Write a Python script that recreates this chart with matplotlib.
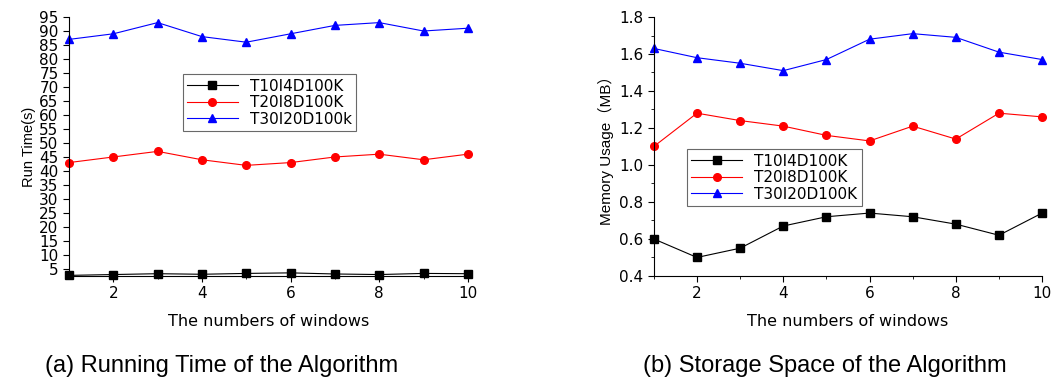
import matplotlib
matplotlib.use("Agg")
import matplotlib.pyplot as plt
from matplotlib.ticker import MultipleLocator, FormatStrFormatter

plt.rcParams['font.family'] = ['Liberation Sans', 'Noto Sans CJK SC', 'DejaVu Sans']

# data
windows = [1, 2, 3, 4, 5, 6, 7, 8, 9, 10]
labels_a = ["T10I4D100K", "T20I8D100K", "T30I20D100k"]
labels_b = ["T10I4D100K", "T20I8D100K", "T30I20D100K"]

time_t10 = [2.7, 3.0, 3.3, 3.1, 3.4, 3.6, 3.2, 3.0, 3.4, 3.3]
time_t20 = [43, 45, 47, 44, 42, 43, 45, 46, 44, 46]
time_t30 = [87, 89, 93, 88, 86, 89, 92, 93, 90, 91]

mem_t10 = [0.60, 0.50, 0.55, 0.67, 0.72, 0.74, 0.72, 0.68, 0.62, 0.74]
mem_t20 = [1.10, 1.28, 1.24, 1.21, 1.16, 1.13, 1.21, 1.14, 1.28, 1.26]
mem_t30 = [1.63, 1.58, 1.55, 1.51, 1.57, 1.68, 1.71, 1.69, 1.61, 1.57]

styles = [("black", "s"), ("red", "o"), ("blue", "^")]

# the original plots were stretched sideways, so use the wide DejaVu face for them
wide = 'DejaVu Sans'

fig = plt.figure(figsize=(10.58, 3.78), dpi=100)
ax1 = fig.add_axes([0.0652, 0.270, 0.377, 0.685])
ax2 = fig.add_axes([0.618, 0.270, 0.367, 0.685])


def style_axes(ax):
    ax.spines['top'].set_visible(False)
    ax.spines['right'].set_visible(False)
    ax.set_xlim(1, 10)
    ax.xaxis.set_major_locator(MultipleLocator(2))
    ax.xaxis.set_minor_locator(MultipleLocator(1))
    ax.tick_params(which='major', direction='out', length=4, labelsize=11)
    ax.tick_params(which='minor', direction='out', length=2)
    for t in ax.get_xticklabels() + ax.get_yticklabels():
        t.set_family(wide)
    ax.set_xlabel("The numbers of windows", fontsize=11.5, family=wide, labelpad=9)


def add_legend(ax, anchor):
    leg = ax.legend(loc='upper left', bbox_to_anchor=anchor,
                    prop={'family': wide, 'size': 11},
                    frameon=True, fancybox=False, edgecolor='#444444',
                    handlelength=3.3, borderpad=0.3, labelspacing=0.1,
                    borderaxespad=0)
    leg.get_frame().set_linewidth(0.8)


# (a) running time
for ys, (c, m), lab in zip([time_t10, time_t20, time_t30], styles, labels_a):
    ax1.plot(windows, ys, color=c, marker=m, markersize=5.5, linewidth=0.8,
             label=lab, clip_on=False)
ax1.set_ylim(2.5, 95)
ax1.set_yticks(range(5, 96, 5))
style_axes(ax1)
ax1.set_ylabel("Run Time(s)", fontsize=10.5, labelpad=2)
add_legend(ax1, (0.285, 0.78))

# (b) storage space
for ys, (c, m), lab in zip([mem_t10, mem_t20, mem_t30], styles, labels_b):
    ax2.plot(windows, ys, color=c, marker=m, markersize=5.5, linewidth=0.8,
             label=lab, clip_on=False)
ax2.set_ylim(0.4, 1.8)
ax2.yaxis.set_major_locator(MultipleLocator(0.2))
ax2.yaxis.set_minor_locator(MultipleLocator(0.1))
ax2.yaxis.set_major_formatter(FormatStrFormatter('%.1f'))
style_axes(ax2)
ax2.set_ylabel("Memory Usage（MB）", fontsize=11, labelpad=4)
add_legend(ax2, (0.085, 0.49))

fig.text(0.209, 0.016, "(a) Running Time of the Algorithm", fontsize=17,
         ha='center', va='baseline')
fig.text(0.78, 0.016, "(b) Storage Space of the Algorithm", fontsize=17,
         ha='center', va='baseline')

fig.savefig("out.png", dpi=100)
